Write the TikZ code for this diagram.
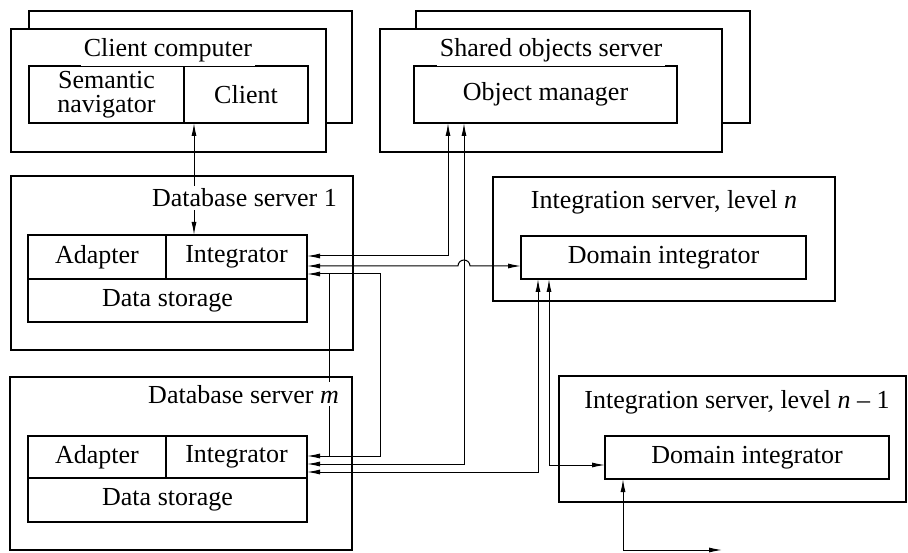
\documentclass[tikz,border=0pt]{standalone}
\usepackage{fontspec}
\setmainfont{Liberation Serif}
\usetikzlibrary{arrows.meta, calc}

\begin{document}
\begin{tikzpicture}[x=1pt, y=-1pt,
      every node/.style={font=\fontsize{26}{24}\selectfont},
      frame/.style={draw, line width=2pt, fill=white, anchor=north west,
                    inner sep=0pt, outer sep=0pt},
      unit/.style={draw, line width=1.2pt, fill=white, anchor=north west,
                   inner sep=0pt, outer sep=0pt, align=center},
      title/.style={fill=white, inner sep=3pt},
      conn/.style={line width=1pt,
                   {Latex[length=13pt,width=5pt]}-{Latex[length=13pt,width=5pt]}}]
    \useasboundingbox (0,0) rectangle (908,553);
    % client computer
    \node[frame, minimum width=323pt, minimum height=112pt] (ccb) at (29,11) {};
    \node[frame, minimum width=315pt, minimum height=123pt] (cc)  at (11,29) {};
    \node[unit, minimum width=155pt, minimum height=57pt] (nav) at (29,66)  {Semantic\\navigator};
    \node[unit, minimum width=124pt, minimum height=57pt] (cli) at (184,66) {Client};
    % shared objects server
    \node[frame, minimum width=334pt, minimum height=112pt] (sosb) at (416,11) {};
    \node[frame, minimum width=342pt, minimum height=123pt] (sos)  at (380,29) {};
    \node[unit, minimum width=263pt, minimum height=57pt] (om) at (414,66) {Object manager};
    % database servers
    \node[frame, minimum width=342pt, minimum height=174pt] (db1) at (11,176) {};
    \node[unit, minimum width=138pt, minimum height=44pt] (ad1) at (28,235)  {Adapter};
    \node[unit, minimum width=141pt, minimum height=44pt] (in1) at (166,235) {Integrator};
    \node[unit, minimum width=279pt, minimum height=43pt] (ds1) at (28,279)  {Data storage};
    \node[frame, minimum width=342pt, minimum height=173pt] (dbm) at (10,377) {};
    \node[unit, minimum width=138pt, minimum height=42pt] (adm) at (28,436)  {Adapter};
    \node[unit, minimum width=141pt, minimum height=42pt] (inm) at (166,436) {Integrator};
    \node[unit, minimum width=279pt, minimum height=44pt] (dsm) at (28,478)  {Data storage};
    % integration servers
    \node[frame, minimum width=342pt, minimum height=124pt] (isn) at (493,177) {};
    \node[unit, minimum width=285pt, minimum height=43pt] (din) at (521,236) {Domain integrator};
    \node[frame, minimum width=347pt, minimum height=126pt] (isp) at (559,376) {};
    \node[unit, minimum width=284pt, minimum height=43pt] (dip) at (605,436) {Domain integrator};

    % connectors
    \coordinate (cl) at ([xshift=10pt]cli.south west);
    \coordinate (hb) at ([yshift=-9pt]in1.east);
    \coordinate (out) at (722,550);
    \draw[conn] (cl) -- (cl |- in1.north);
    \draw[conn] ([yshift=1pt]in1.east) -| ([xshift=34pt]om.south west);
    \draw[conn] (hb) -- ++(151,0) arc (180:0:6pt) -- (hb -| din.west);
    \draw[conn] ([yshift=-17pt]in1.east) -- ++(73,0) |- ([yshift=1pt]inm.east);
    \draw[line width=1pt] ([xshift=22pt,yshift=-17pt]in1.east) -- ([xshift=22pt,yshift=1pt]inm.east);
    \draw[conn] ([xshift=50pt]om.south west) |- ([yshift=-7pt]inm.east);
    \draw[conn] ([yshift=-15pt]inm.east) -| ([xshift=17pt]din.south west);
    \draw[conn] ([xshift=28pt]din.south west) |- ([yshift=-7.5pt]dip.west);
    \draw[conn] ([xshift=18pt]dip.south west) |- (out);

    % titles
    \node[title, anchor=base] (tcc)  at (168,57) {Client computer};
    \node[title, anchor=base] (tsos) at (551,57) {Shared objects server};
    \node[title, anchor=base east] (tdb1) at (340,207) {Database server 1};
    \node[title, anchor=base east] (tdbm) at (342,403) {Database server \textit{m}};
    \node[title, anchor=base] (tisn) at (664,209) {Integration server, level \textit{n}};
    \node[title, anchor=base] (tisp) at (737,408) {Integration server, level \textit{n} – 1};
  \end{tikzpicture}
\end{document}
